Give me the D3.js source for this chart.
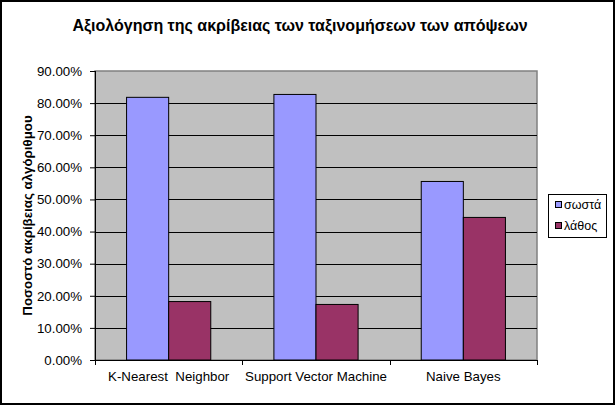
<!DOCTYPE html>
<html><head><meta charset="utf-8">
<script src="https://cdn.jsdelivr.net/npm/d3@7"></script>
<style>body{margin:0;background:#fff}svg{display:block}text{font-family:Arial,"Liberation Sans",sans-serif}</style>
</head><body><svg id="c" width="616" height="407"></svg>
<script>
const categories = ["K-Nearest  Neighbor", "Support Vector Machine", "Naive Bayes"];
const seriesNames = ["σωστά", "λάθος"];
const correct = [0.818, 0.827, 0.556];
const wrong = [0.182, 0.173, 0.444];
const yTicks = [0, 0.1, 0.2, 0.3, 0.4, 0.5, 0.6, 0.7, 0.8, 0.9];
const colors = ["#9999FF", "#993366"];
const title = "Αξιολόγηση της ακρίβειας των ταξινομήσεων των απόψεων";
const yTitle = "Ποσοστό ακρίβειας αλγόριθμου";

const svg = d3.select("#c");
const L = 95, R = 537, T = 71, B = 360;
const x0 = d3.scaleBand().domain(categories).range([L, R]);
const x1 = d3.scaleBand().domain(seriesNames).range([0, x0.bandwidth()]).paddingOuter(0.75);
const y = d3.scaleLinear().domain([0, 0.9]).range([B, T]);
const color = d3.scaleOrdinal().domain(seriesNames).range(colors);

// outer border
svg.append("rect").attr("x", 1).attr("y", 1).attr("width", 613).attr("height", 403)
  .attr("fill", "#fff").attr("stroke", "#000").attr("stroke-width", 2);

// plot area
svg.append("rect").attr("x", L).attr("y", T).attr("width", R - L).attr("height", B - T)
  .attr("fill", "#C0C0C0").attr("stroke", "#808080").attr("stroke-width", 1.5);

// gridlines
svg.append("g").selectAll("line").data(yTicks.filter(d => d > 0 && d < 0.9)).join("line")
  .attr("x1", L).attr("x2", R).attr("y1", d => Math.round(y(d)) + 0.5).attr("y2", d => Math.round(y(d)) + 0.5)
  .attr("stroke", "#000").attr("stroke-width", 1);

// bars
const data = categories.map((c, i) => ({c, vals: [correct[i], wrong[i]]}));
const g = svg.append("g").selectAll("g").data(data).join("g")
  .attr("transform", d => `translate(${x0(d.c)},0)`);
g.selectAll("rect").data(d => d.vals.map((v, j) => ({k: seriesNames[j], v}))).join("rect")
  .attr("x", d => x1(d.k)).attr("width", x1.bandwidth())
  .attr("y", d => y(d.v)).attr("height", d => B - y(d.v))
  .attr("fill", d => color(d.k)).attr("stroke", "#000").attr("stroke-width", 1);

// y axis
const ya = svg.append("g").attr("transform", `translate(${L},0)`)
  .call(d3.axisLeft(y).tickValues(yTicks).tickFormat(d3.format(".2%")).tickSize(5).tickPadding(8));
ya.select(".domain").attr("stroke", "#000").attr("d", `M0.5,${T}V${B}`);
ya.selectAll("text").attr("font-size", "13.3px").attr("fill", "#000").attr("font-family", "Arial, 'Liberation Sans', sans-serif");

// x axis
const xa = svg.append("g").attr("transform", `translate(0,${B})`)
  .call(d3.axisBottom(x0).tickSize(0).tickPadding(12));
xa.select(".domain").remove();
xa.selectAll("text").attr("font-size", "13.3px").attr("fill", "#000").attr("font-family", "Arial, 'Liberation Sans', sans-serif")
  .style("white-space", "pre").attr("xml:space", "preserve");
svg.append("line").attr("x1", L).attr("x2", R).attr("y1", B + 0.5).attr("y2", B + 0.5).attr("stroke", "#000");
const bounds = [L].concat(categories.map(c => x0(c) + x0.bandwidth()));
svg.append("g").selectAll("line").data(bounds).join("line")
  .attr("x1", d => Math.round(d) + 0.5).attr("x2", d => Math.round(d) + 0.5)
  .attr("y1", B).attr("y2", B + 5).attr("stroke", "#000");

// title
svg.append("text").attr("x", 300).attr("y", 31).attr("text-anchor", "middle")
  .attr("font-size", "16px").attr("font-weight", "bold").text(title);

// y title
svg.append("text").attr("transform", `translate(32,${(T + B) / 2}) rotate(-90)`)
  .attr("text-anchor", "middle").attr("font-size", "13.3px").attr("font-weight", "bold").text(yTitle);

// legend
const lg = svg.append("g");
lg.append("rect").attr("x", 548.5).attr("y", 194.5).attr("width", 58).attr("height", 43)
  .attr("fill", "#fff").attr("stroke", "#000");
const li = lg.selectAll("g").data(seriesNames).join("g")
  .attr("transform", (d, i) => `translate(0,${204 + i * 21})`);
li.append("rect").attr("x", 555.5).attr("y", -2.5).attr("width", 6).attr("height", 6)
  .attr("fill", d => color(d)).attr("stroke", "#000");
li.append("text").attr("x", 564).attr("y", 5).attr("font-size", "12.5px").text(d => d);
</script></body></html>
